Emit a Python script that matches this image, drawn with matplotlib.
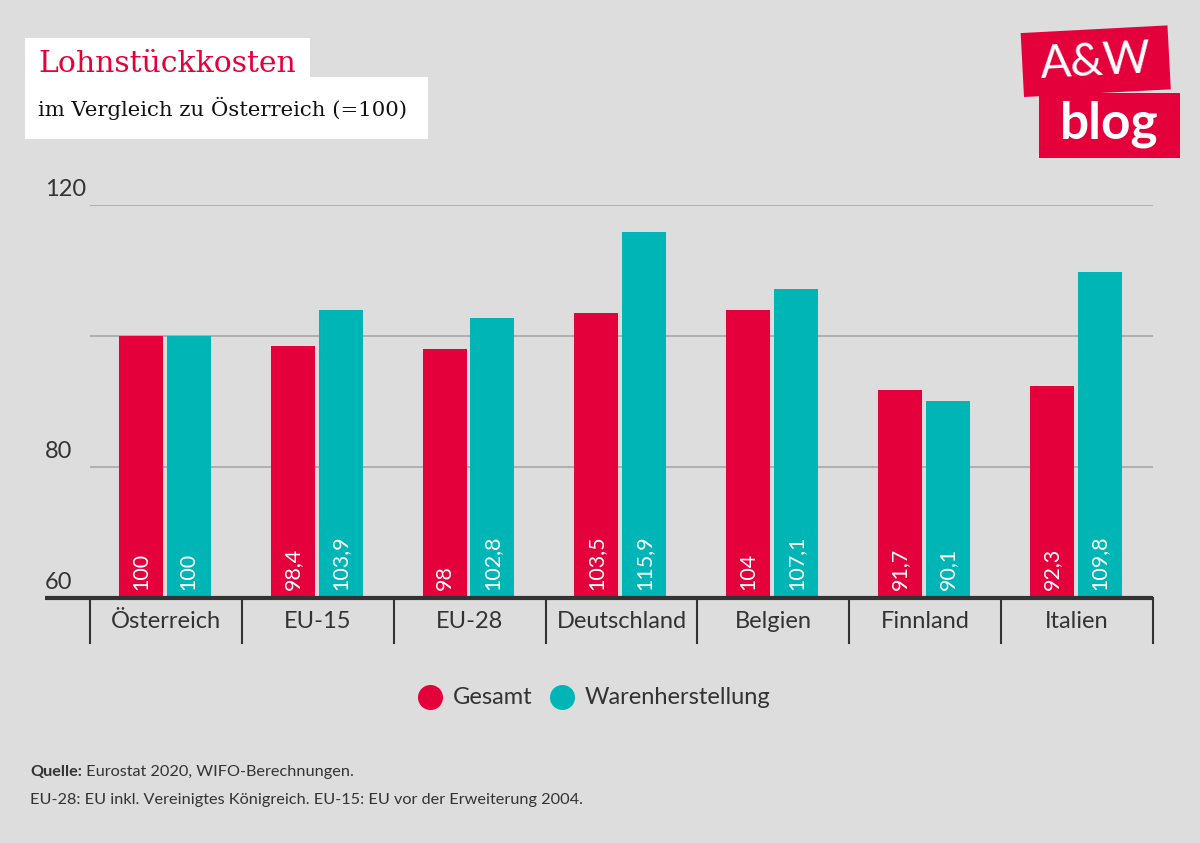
import matplotlib.pyplot as plt
from matplotlib.patches import Rectangle
import matplotlib.transforms as mtransforms

# data
laender = ["Österreich", "EU-15", "EU-28", "Deutschland", "Belgien", "Finnland", "Italien"]
gesamt = [100, 98.4, 98, 103.5, 104, 91.7, 92.3]
waren = [100, 103.9, 102.8, 115.9, 107.1, 90.1, 109.8]
yticks = [60, 80, 100, 120]
ytick_labels = ["60", "80", "", "120"]

red = "#E4003A"
teal = "#00B5B5"
bg = "#DDDDDD"
dark = "#333333"
body = "Lato"

fig = plt.figure(figsize=(12, 8.43), dpi=100, facecolor=bg)
W, H = 1200, 843

def fy(y):
    # pixel row from top -> figure fraction
    return 1 - y / H

ax = fig.add_axes([45 / W, fy(598), (1153 - 45) / W, (598 - 205) / H])
ax.set_facecolor(bg)
n = len(laender)
cat_w = 152.0
x_left = -0.5 - 45 / cat_w
ax.set_xlim(x_left, n - 0.5)
ax.set_ylim(60, 120)
for s in ax.spines.values():
    s.set_visible(False)
ax.set_xticks([])
ax.set_yticks([])

# gridlines + y labels
for t, lab in zip(yticks, ytick_labels):
    if t != 60:
        ax.hlines(t, -0.5, n - 0.5, color="#A8A8A8", lw=1.2, zorder=0)
    if lab:
        ax.text(x_left, t + 0.8, lab, ha="left", va="bottom", fontsize=17, family=body, color=dark)

bw = 0.29
xs = list(range(n))
ax.bar([x - 0.165 for x in xs], [g - 60 for g in gesamt], bottom=60, width=bw, color=red, zorder=2)
ax.bar([x + 0.15 for x in xs], [w - 60 for w in waren], bottom=60, width=bw, color=teal, zorder=2)

def fmt(v):
    s = ("%.1f" % v).rstrip("0").rstrip(".")
    return s.replace(".", ",")

for x, g, w in zip(xs, gesamt, waren):
    ax.text(x - 0.165, 61.2, fmt(g), rotation=90, ha="center", va="bottom",
            color="white", fontsize=15.5, family=body, zorder=3)
    ax.text(x + 0.15, 61.2, fmt(w), rotation=90, ha="center", va="bottom",
            color="white", fontsize=15.5, family=body, zorder=3)

# baseline and category separators
ax.plot([x_left, n - 0.5], [60, 60], color=dark, lw=3, clip_on=False, zorder=4,
        solid_capstyle="butt")
trans = mtransforms.blended_transform_factory(ax.transData, fig.transFigure)
for i in range(n + 1):
    ax.plot([i - 0.5, i - 0.5], [fy(598), fy(643)], color=dark, lw=1.5,
            transform=trans, clip_on=False)
for i, lab in enumerate(laender):
    ax.text(i, fy(621), lab, transform=trans, ha="center", va="center",
            fontsize=17, family=body, color=dark)

# legend
lg_y = fy(697)
fig.add_artist(plt.Line2D([430 / W], [lg_y], marker="o", markersize=17, color=red, lw=0))
fig.text(453 / W, lg_y, "Gesamt", ha="left", va="center", fontsize=17, family=body, color=dark)
fig.add_artist(plt.Line2D([562 / W], [lg_y], marker="o", markersize=17, color=teal, lw=0))
fig.text(585 / W, lg_y, "Warenherstellung", ha="left", va="center", fontsize=17, family=body, color=dark)

# footnotes
q = fig.text(30 / W, fy(772), "Quelle:", ha="left", va="center", fontsize=11.7, family=body,
             weight="bold", color=dark)
fig.add_artist(plt.Annotation(" Eurostat 2020, WIFO-Berechnungen.", xy=(1, 0.5), xycoords=q,
                              va="center", ha="left", fontsize=11.7, family=body, color=dark))
fig.text(30 / W, fy(800), "EU-28: EU inkl. Vereinigtes Königreich. EU-15: EU vor der Erweiterung 2004.",
         ha="left", va="center", fontsize=11.7, family=body, color=dark)

# title boxes
fig.add_artist(Rectangle((25 / W, fy(84)), 285 / W, 46 / H, transform=fig.transFigure,
                         facecolor="white", edgecolor="none"))
fig.add_artist(Rectangle((25 / W, fy(139)), 403 / W, 62 / H, transform=fig.transFigure,
                         facecolor="white", edgecolor="none"))
fig.text(38 / W, fy(64), "Lohnstückkosten", ha="left", va="center", fontsize=21.5,
         family="DejaVu Serif", color=red)
fig.text(38 / W, fy(108), "im Vergleich zu Österreich (=100)", ha="left", va="center", fontsize=15.3,
         family="DejaVu Serif", color="#111111")

# logo (pixel coordinates, bottom-left origin)
pix = mtransforms.IdentityTransform()
r1 = Rectangle((1024, H - 97), 147, 64, facecolor=red, edgecolor="none",
               transform=mtransforms.Affine2D().rotate_deg_around(1024, H - 97, 3) + pix)
fig.add_artist(r1)
fig.add_artist(Rectangle((1039, H - 158), 141, 65, facecolor=red, edgecolor="none", transform=pix))
fig.text(1096 / W, fy(62), "A&W", ha="center", va="center", fontsize=33, family="Lato",
         color="white", rotation=3)
fig.text(1109 / W, fy(124), "blog", ha="center", va="center", fontsize=37, family="Lato",
         weight="bold", color="white")

fig.savefig("out.png", dpi=100, facecolor=bg)
